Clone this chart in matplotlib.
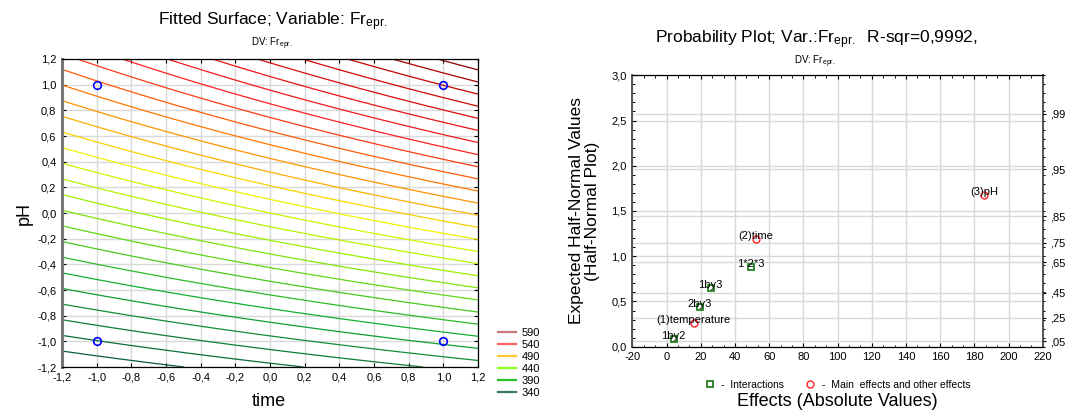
import numpy as np
import matplotlib
matplotlib.use('Agg')
import matplotlib.pyplot as plt
from matplotlib.colors import LinearSegmentedColormap
from matplotlib.lines import Line2D
from matplotlib.ticker import FuncFormatter, MultipleLocator, FixedLocator

plt.rcParams['font.family'] = ['Liberation Sans', 'DejaVu Sans']
plt.rcParams['mathtext.fontset'] = 'custom'
plt.rcParams['mathtext.rm'] = 'Liberation Sans'
plt.rcParams['mathtext.it'] = 'Liberation Sans:italic'

# ---------------- data ----------------
# fitted surface coefficients (coded units, temperature held at 0)
SURF_B0 = 460.0
SURF_TIME = 26.5
SURF_PH = 94.0
SURF_TIME_PH = 10.0

contour_levels = [340, 350, 360, 370, 380, 390, 400, 410, 420, 430, 440, 450,
                  460, 470, 480, 490, 500, 510, 520, 530, 540, 550, 560, 570,
                  580, 590, 600, 610]
color_nodes = [340, 390, 440, 470, 490, 515, 540, 590, 610]
color_node_colors = ['#0b5e3c', '#12b030', '#9af000', '#f2f200', '#ffb000',
                     '#ff6a00', '#ff2020', '#c80000', '#8c0000']
legend_levels = [590, 540, 490, 440, 390, 340]
legend_colors = ['#c87878', '#ff6060', '#ffc830', '#8cff20', '#28c028', '#3a7a5c']

design_time = [-1, 1, -1, 1]
design_ph = [1, 1, -1, -1]

effect_names = ['(3)pH', '(2)time', '1*2*3', '1by3', '2by3', '(1)temperature', '1by2']
effect_abs = [185.9, 52.3, 49.4, 25.8, 19.4, 15.9, 4.2]
expected_hn = [1.678, 1.188, 0.885, 0.653, 0.443, 0.258, 0.081]
is_interaction = [False, False, True, True, True, False, True]

prob_labels = [',05', ',25', ',45', ',65', ',75', ',85', ',95', ',99']
prob_positions = [0.063, 0.319, 0.598, 0.935, 1.150, 1.440, 1.960, 2.576]

# ---------------- figure ----------------
W, H = 1079, 412
fig = plt.figure(figsize=(W / 100, H / 100), dpi=100)

def comma(fmt):
    return FuncFormatter(lambda v, p: (fmt % v).replace('.', ','))

GRID = '#d9d9d9'

# ---- left: fitted surface ----
ax1 = fig.add_axes([62 / W, 1 - 367 / H, (478 - 62) / W, (367 - 59) / H])
t = np.linspace(-1.2, 1.2, 300)
p = np.linspace(-1.2, 1.2, 300)
T, P = np.meshgrid(t, p)
Z = SURF_B0 + SURF_TIME * T + SURF_PH * P + SURF_TIME_PH * T * P

lo, hi = color_nodes[0], color_nodes[-1]
cmap = LinearSegmentedColormap.from_list(
    'surf', [((v - lo) / (hi - lo), c) for v, c in zip(color_nodes, color_node_colors)])
ax1.contour(T, P, Z, levels=contour_levels, cmap=cmap, vmin=lo, vmax=hi,
            linewidths=0.9, zorder=2)
ax1.plot(design_time, design_ph, 'o', ms=5.5, mfc='none', mec='#0000ff', mew=1.2,
         zorder=3)
ax1.set_xlim(-1.2, 1.2)
ax1.set_ylim(-1.2, 1.2)
ax1.xaxis.set_major_locator(MultipleLocator(0.2))
ax1.yaxis.set_major_locator(MultipleLocator(0.2))
ax1.xaxis.set_major_formatter(comma('%.1f'))
ax1.yaxis.set_major_formatter(comma('%.1f'))
ax1.grid(True, color=GRID, lw=1.0, zorder=0)
ax1.set_axisbelow(True)
ax1.tick_params(direction='in', length=3, width=0.8, labelsize=8, pad=4,
                top=True, right=True, colors='black')
for s in ['top', 'right', 'bottom']:
    ax1.spines[s].set_linewidth(0.9)
    ax1.spines[s].set_color('black')
ax1.spines['left'].set_linewidth(2.2)
ax1.spines['left'].set_color('#777777')
ax1.set_ylabel('pH', fontsize=13, labelpad=3)
fig.text(269 / W, 1 - 401 / H, 'time', ha='center', va='center', fontsize=13)

fig.text(273 / W, 1 - 22 / H, 'Fitted Surface; Variable: Fr$_{\\mathrm{epr.}}$',
         ha='center', va='center', fontsize=12.5)
fig.text(272 / W, 1 - 44 / H, 'DV: Fr$_{\\mathrm{epr.}}$',
         ha='center', va='center', fontsize=7)

handles = [Line2D([], [], color=c, lw=1.6) for c in legend_colors]
fig.legend(handles, [str(v) for v in legend_levels], loc='upper left',
           bbox_to_anchor=(498 / W, 1 - 328 / H), frameon=False, fontsize=8,
           handlelength=1.6, handletextpad=0.5, labelspacing=0.18,
           borderpad=0, borderaxespad=0)

# ---- right: half-normal probability plot ----
ax2 = fig.add_axes([632.3 / W, 1 - 346.7 / H, (1042.7 - 632.3) / W, (346.7 - 75.3) / H])
ax2.set_xlim(-20, 220)
ax2.set_ylim(0, 3.0)
ax2.xaxis.set_major_locator(MultipleLocator(20))
ax2.yaxis.set_major_locator(MultipleLocator(0.5))
ax2.xaxis.set_major_formatter(FuncFormatter(lambda v, p: '%d' % round(v)))
ax2.yaxis.set_major_formatter(comma('%.1f'))
ax2.xaxis.set_minor_locator(MultipleLocator(20 / 3))
ax2.yaxis.set_minor_locator(MultipleLocator(0.1))
ax2.grid(True, which='major', color=GRID, lw=1.0, zorder=0)
for yp in prob_positions:
    ax2.axhline(yp, color=GRID, lw=1.0, zorder=0)
ax2.set_axisbelow(True)
ax2.tick_params(which='major', direction='in', length=3, width=0.8, labelsize=8,
                pad=4, top=True, right=False)
ax2.tick_params(which='minor', direction='in', length=1.8, width=0.7,
                top=True, right=False)
for s in ax2.spines.values():
    s.set_linewidth(0.9)
    s.set_color('black')
ax2.spines['left'].set_linewidth(1.4)
ax2.spines['left'].set_color('#555555')
ax2.spines['right'].set_linewidth(1.4)
ax2.spines['right'].set_color('#555555')

ax3 = ax2.twinx()
ax3.set_ylim(0, 3.0)
ax3.yaxis.set_major_locator(FixedLocator(prob_positions))
ax3.set_yticklabels(prob_labels)
ax3.yaxis.set_minor_locator(MultipleLocator(0.1))
ax3.tick_params(which='major', direction='out', length=2, width=0.8, labelsize=8, pad=3)
ax3.tick_params(which='minor', direction='out', length=1.5, width=0.7)
for s in ax3.spines.values():
    s.set_visible(False)

for name, xv, yv, inter in zip(effect_names, effect_abs, expected_hn, is_interaction):
    if inter:
        ax2.plot(xv, yv, 's', ms=5, mfc='none', mec='#117711', mew=1.2, zorder=4)
    else:
        ax2.plot(xv, yv, 'o', ms=5, mfc='none', mec='#ff2020', mew=1.0, zorder=4)
    ax2.annotate(name, (xv, yv), xytext=(0, -1.5), textcoords='offset points',
                 ha='center', va='bottom', fontsize=8, zorder=5)

fig.text(837 / W, 1 - 401 / H, 'Effects (Absolute Values)', ha='center',
         va='center', fontsize=13)
ax2.set_ylabel('Expected Half-Normal Values\n(Half-Normal Plot)', fontsize=12.5,
               labelpad=8, linespacing=1.1)

leg_handles = [Line2D([], [], ls='none', marker='s', ms=5, mfc='none', mec='#117711', mew=1.2),
               Line2D([], [], ls='none', marker='o', ms=5, mfc='none', mec='#ff2020', mew=1.0)]
ax2.legend(leg_handles, ['-  Interactions', '-  Main  effects and other effects'],
           loc='center', bbox_to_anchor=(0.5, 1 - (385 - 75.3) / (346.7 - 75.3)),
           ncol=2, frameon=False, fontsize=7.5, handlelength=1.0,
           handletextpad=0.6, columnspacing=2.0, borderpad=0)

fig.text(816 / W, 1 - 40 / H,
         'Probability Plot; Var.:Fr$_{\\mathrm{epr.}}$  R-sqr=0,9992,',
         ha='center', va='center', fontsize=12.5)
fig.text(815 / W, 1 - 62 / H, 'DV: Fr$_{\\mathrm{epr.}}$',
         ha='center', va='center', fontsize=7)

fig.savefig('out.png', dpi=100)
